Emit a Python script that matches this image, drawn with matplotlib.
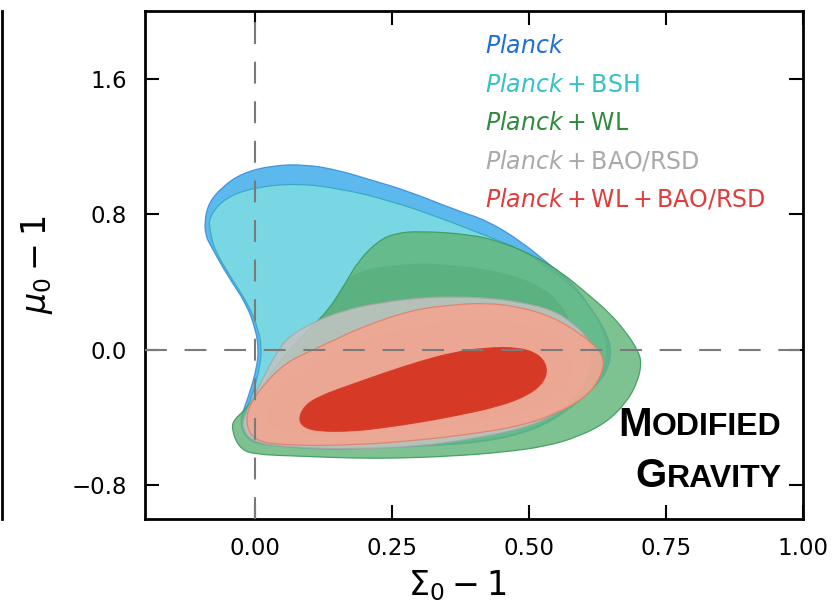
import matplotlib
matplotlib.use("Agg")
import matplotlib.pyplot as plt
from matplotlib.lines import Line2D
from matplotlib.path import Path
from matplotlib.patches import PathPatch

# contour outlines, in (Sigma_0 - 1, mu_0 - 1)
planck_x = [-0.091, -0.084, -0.060, -0.024, 0.031, 0.093, 0.154, 0.214, 0.276, 0.367, 0.422, 0.483,
            0.543, 0.580, 0.616, 0.642, 0.651, 0.642, 0.616, 0.574, 0.514, 0.422, 0.300, 0.177,
            0.117, 0.026, -0.005, -0.022, -0.026, -0.020, -0.007, 0.004, 0.007, 0.002, -0.016,
            -0.048, -0.079, -0.090]
planck_y = [0.765, 0.865, 0.959, 1.041, 1.088, 1.094, 1.059, 1.000, 0.941, 0.824, 0.765, 0.647,
            0.488, 0.394, 0.235, 0.100, -0.012, -0.135, -0.235, -0.353, -0.471, -0.547, -0.571, -0.588,
            -0.588, -0.565, -0.547, -0.488, -0.412, -0.353, -0.235, -0.100, 0.000, 0.118, 0.276,
            0.429, 0.606, 0.676]

bsh_x = [-0.084, -0.053, 0.002, 0.075, 0.154, 0.245, 0.336, 0.428, 0.488, 0.514, 0.574, 0.616,
         0.638, 0.645, 0.636, 0.611, 0.570, 0.510, 0.422, 0.300, 0.177, 0.117, 0.026, -0.004,
         -0.018, -0.018, -0.011, 0.000, 0.009, 0.013, 0.007, -0.011, -0.042, -0.073, -0.081]
bsh_y = [0.782, 0.900, 0.959, 0.982, 0.953, 0.882, 0.782, 0.665, 0.588, 0.529, 0.394, 0.235,
         0.100, -0.012, -0.135, -0.235, -0.353, -0.471, -0.541, -0.565, -0.576, -0.576, -0.553, -0.529,
         -0.471, -0.400, -0.324, -0.224, -0.106, 0.000, 0.118, 0.265, 0.418, 0.588, 0.694]

wl95_x = [-0.042, -0.038, -0.016, 0.016, 0.044, 0.075, 0.104, 0.135, 0.166, 0.190, 0.227, 0.258,
          0.300, 0.391, 0.452, 0.514, 0.561, 0.605, 0.647, 0.678, 0.698, 0.706, 0.698, 0.678,
          0.642, 0.592, 0.532, 0.452, 0.360, 0.263, 0.177, 0.080, -0.005, -0.029]
wl95_y = [-0.471, -0.412, -0.353, -0.206, -0.076, 0.041, 0.135, 0.235, 0.394, 0.529, 0.647, 0.688,
          0.700, 0.682, 0.635, 0.547, 0.453, 0.335, 0.218, 0.100, 0.000, -0.076, -0.194, -0.312,
          -0.429, -0.512, -0.571, -0.606, -0.629, -0.641, -0.641, -0.629, -0.618, -0.576]

wl68_x = [0.148, 0.166, 0.190, 0.214, 0.258, 0.305, 0.360, 0.422, 0.483, 0.525, 0.555, 0.575,
          0.585, 0.583, 0.570, 0.540, 0.483, 0.391, 0.300, 0.208, 0.117, 0.053, 0.035, 0.053,
          0.090, 0.121]
wl68_y = [0.294, 0.412, 0.459, 0.482, 0.500, 0.512, 0.500, 0.476, 0.429, 0.365, 0.285, 0.180,
          0.040, -0.118, -0.265, -0.382, -0.459, -0.506, -0.529, -0.529, -0.506, -0.441, -0.324, -0.147,
          0.059, 0.188]

bao95_x = [0.062, 0.104, 0.166, 0.227, 0.300, 0.360, 0.422, 0.483, 0.543, 0.580, 0.611, 0.616,
           0.607, 0.587, 0.543, 0.483, 0.391, 0.300, 0.177, 0.062, -0.005, -0.024, -0.016, 0.002,
           0.026, 0.044]
bao95_y = [0.076, 0.159, 0.235, 0.276, 0.306, 0.312, 0.306, 0.282, 0.235, 0.159, 0.059, -0.041,
           -0.159, -0.276, -0.394, -0.471, -0.529, -0.571, -0.588, -0.576, -0.547, -0.453, -0.371, -0.253,
           -0.100, 0.000]

bao68_x = [0.016, 0.035, 0.080, 0.154, 0.245, 0.336, 0.428, 0.501, 0.556, 0.583, 0.578, 0.547,
           0.483, 0.391, 0.263, 0.135, 0.044]
bao68_y = [-0.412, -0.265, -0.129, 0.000, 0.106, 0.165, 0.176, 0.147, 0.059, -0.059, -0.176, -0.294,
           -0.382, -0.441, -0.488, -0.512, -0.494]

all95_x = [-0.016, -0.011, 0.013, 0.057, 0.099, 0.135, 0.196, 0.287, 0.360, 0.422, 0.483, 0.543,
           0.592, 0.629, 0.638, 0.629, 0.605, 0.556, 0.483, 0.391, 0.300, 0.177, 0.057, 0.002]
all95_y = [-0.453, -0.335, -0.218, -0.076, -0.012, 0.041, 0.135, 0.235, 0.265, 0.276, 0.253, 0.194,
           0.100, 0.000, -0.076, -0.176, -0.276, -0.371, -0.453, -0.500, -0.535, -0.565, -0.565, -0.541]

all68_x = [0.080, 0.090, 0.117, 0.177, 0.239, 0.300, 0.360, 0.422, 0.483, 0.519, 0.534, 0.528,
           0.501, 0.446, 0.360, 0.300, 0.239, 0.177, 0.117, 0.090]
all68_y = [-0.412, -0.335, -0.276, -0.206, -0.135, -0.071, -0.018, 0.012, 0.012, -0.029, -0.106, -0.188,
           -0.265, -0.335, -0.394, -0.429, -0.459, -0.482, -0.482, -0.459]

labels = [r"$\mathit{Planck}$",
          r"$\mathit{Planck}+\mathrm{BSH}$",
          r"$\mathit{Planck}+\mathrm{WL}$",
          r"$\mathit{Planck}+\mathrm{BAO/RSD}$",
          r"$\mathit{Planck}+\mathrm{WL}+\mathrm{BAO/RSD}$"]
label_colors = ["#1f6fd8", "#35c2c6", "#2e8b3c", "#a9a9a9", "#e23b3b"]

xticks = [0.0, 0.25, 0.5, 0.75, 1.0]
yticks = [-0.8, 0.0, 0.8, 1.6]


def smooth_path(xs, ys):
    # closed outline drawn as quadratic curves through the segment midpoints
    pts = list(zip(xs, ys))
    n = len(pts)
    mid = [((pts[i][0] + pts[(i + 1) % n][0]) / 2, (pts[i][1] + pts[(i + 1) % n][1]) / 2)
           for i in range(n)]
    verts = [mid[0]]
    codes = [Path.MOVETO]
    for i in range(1, n + 1):
        verts += [pts[i % n], mid[i % n]]
        codes += [Path.CURVE3, Path.CURVE3]
    return Path(verts, codes)


fig = plt.figure(figsize=(8.38, 6.09), dpi=100)
ax = fig.add_axes([145 / 838, 90 / 609, 658 / 838, 508 / 609])

# (x, y, face, edge, alpha) in drawing order
layers = [
    (planck_x, planck_y, "#5db8ee", "#3a8ed8", 1.0),
    (bsh_x, bsh_y, "#79d7e3", "#33a9c0", 1.0),
    (wl95_x, wl95_y, "#62b579", "#3d9a5c", 0.82),
    (wl68_x, wl68_y, "#3f9a60", "none", 0.28),
    (bao95_x, bao95_y, "#c4c4c4", "#a8a8a8", 0.85),
    (bao68_x, bao68_y, "#adadad", "none", 0.6),
    (all95_x, all95_y, "#f2a690", "#e0806c", 0.9),
    (all68_x, all68_y, "#d63a26", "#d63a26", 1.0),
]
for i, (xs, ys, fc, ec, a) in enumerate(layers):
    p = smooth_path(xs, ys)
    ax.add_patch(PathPatch(p, facecolor=fc, alpha=a, edgecolor="none", zorder=2 + i))
    ax.add_patch(PathPatch(p, facecolor="none", edgecolor=ec, lw=0.9, alpha=0.9, zorder=2 + i))

dash = (0, (10.5, 8.5))
ax.axvline(0, color="#7a7a7a", lw=1.5, ls=dash, zorder=20)
ax.axhline(0, color="#7a7a7a", lw=1.5, ls=dash, zorder=20)

ax.set_xlim(-0.2, 1.0)
ax.set_ylim(-1.0, 2.0)
ax.set_xticks(xticks)
ax.set_yticks(yticks)
ax.tick_params(direction="in", length=10, width=1.5, top=True, right=True,
               labelsize=16.5, pad=13)
for s in ax.spines.values():
    s.set_linewidth(2)

ax.set_xlabel(r"$\Sigma_0-1$", fontsize=24, labelpad=6, x=0.475)
ax.set_ylabel(r"$\mu_0-1$", fontsize=24, labelpad=12)

for k, (lab, col) in enumerate(zip(labels, label_colors)):
    ax.text(0.517, 0.917 - 0.0757 * k, lab, transform=ax.transAxes, color=col,
            fontsize=17, va="baseline", ha="left", zorder=30)

# small caps label
for big, rest, yb in [("M", "ODIFIED", 0.165), ("G", "RAVITY", 0.063)]:
    t = ax.text(0.968, yb, rest, transform=ax.transAxes, ha="right", va="baseline",
                fontsize=23, fontweight="bold", family="Liberation Sans", zorder=30)
    ax.annotate(big, xy=(0, 0), xycoords=t, xytext=(0, -1.0), textcoords="offset points",
                ha="right", va="bottom", fontsize=29, fontweight="bold",
                family="Liberation Sans", zorder=30)

# edge of the neighbouring panel
fig.add_artist(Line2D([2 / 838, 2 / 838], [90 / 609, 598 / 609], color="black", lw=2))

fig.savefig("out.png", dpi=100)
